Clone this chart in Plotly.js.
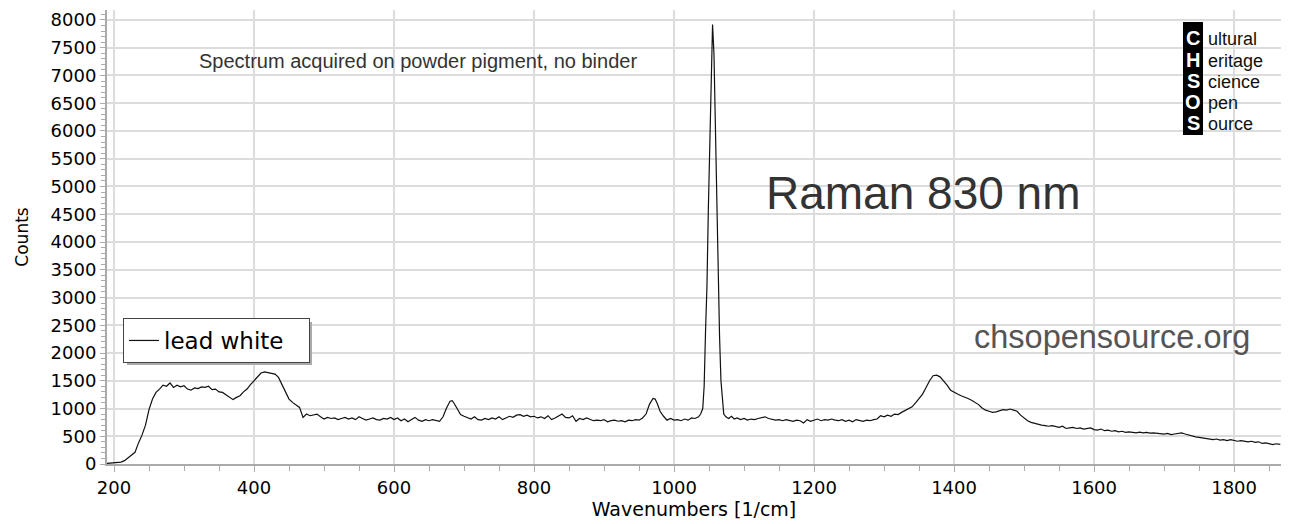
<!DOCTYPE html>
<html>
<head>
<meta charset="utf-8">
<script src="https://cdn.plot.ly/plotly-3.0.1.min.js"></script>
<style>html,body{margin:0;padding:0;background:#fff;}#chart{width:1293px;height:524px;}</style>
</head>
<body>
<div id="chart"></div>
<script>
// Raman spectrum, lead white, 830 nm excitation
const wavenumbers = [
190,195,200,205,210,215,220,225,230,235,240,245,250,255,260,265,270,275,280,285,290,295,300,305,310,315,320,325,330,335,340,345,350,355,360,365,370,375,380,385,390,395,400,405,410,415,420,425,430,435,440,445,450,455,460,465,470,475,480,485,490,495,
500,505,510,515,520,525,530,535,540,545,550,555,560,565,570,575,580,585,590,595,600,605,610,615,620,625,630,635,640,645,650,655,660,665,670,675,680,683,686,690,695,
700,705,710,715,720,725,730,735,740,745,750,755,760,765,770,775,780,785,790,795,800,805,810,815,820,825,830,835,840,845,850,855,860,865,870,875,880,885,890,895,
900,905,910,915,920,925,930,935,940,945,950,955,960,965,970,973,976,980,985,990,995,1000,1005,1010,1015,1020,1025,1030,1035,1038,1041,1043,1045,1047,1049,1051,1053,1055,1057,1059,1061,1063,1065,1067,1069,1071,1074,1078,1082,1086,1090,1095,
1100,1105,1110,1115,1120,1125,1130,1135,1140,1145,1150,1155,1160,1165,1170,1175,1180,1185,1190,1195,1200,1205,1210,1215,1220,1225,1230,1235,1240,1245,1250,1255,1260,1265,1270,1275,1280,1285,1290,1295,
1300,1305,1310,1315,1320,1325,1330,1335,1340,1345,1350,1355,1360,1365,1370,1375,1380,1385,1390,1395,1400,1405,1410,1415,1420,1425,1430,1435,1440,1445,1450,1455,1460,1465,1470,1475,1480,1485,1490,1495,
1500,1505,1510,1515,1520,1525,1530,1535,1540,1545,1550,1555,1560,1565,1570,1575,1580,1585,1590,1595,1600,1605,1610,1615,1620,1625,1630,1635,1640,1645,1650,1655,1660,1665,1670,1675,1680,1685,1690,1695,
1700,1705,1710,1715,1720,1725,1730,1735,1740,1745,1750,1755,1760,1765,1770,1775,1780,1785,1790,1795,1800,1805,1810,1815,1820,1825,1830,1835,1840,1845,1850,1855,1860,1866
];
const counts = [
10,15,20,18,35,60,110,150,210,380,520,700,980,1170,1290,1350,1420,1400,1460,1380,1420,1390,1410,1350,1330,1370,1360,1390,1380,1400,1340,1350,1300,1290,1250,1210,1160,1200,1230,1300,1350,1430,1500,1570,1640,1660,1650,1640,1620,1560,1430,1300,1170,1110,1060,1020,840,900,870,880,900,850,
810,840,820,830,800,820,840,810,830,800,850,820,790,810,830,800,790,820,810,840,800,830,780,810,760,800,840,790,770,800,780,800,790,770,850,1010,1130,1140,1090,1000,890,
860,830,810,850,800,790,820,800,830,810,850,800,830,860,840,880,890,860,880,850,860,830,850,820,870,800,830,860,900,840,830,870,770,820,800,830,810,780,790,780,
800,760,780,790,770,780,760,790,780,800,790,830,900,1080,1180,1170,1090,950,860,790,820,790,800,780,810,790,830,820,850,900,1000,1400,2400,3200,4600,5900,7200,7920,7400,6100,4700,3300,2300,1500,1100,900,850,820,860,810,830,800,
820,790,810,800,820,830,850,820,800,790,800,780,800,790,770,790,780,740,800,770,790,810,780,800,790,810,790,780,800,770,790,760,800,780,770,790,780,800,810,870,
850,880,860,900,890,930,960,990,1030,1100,1180,1260,1380,1500,1590,1600,1570,1500,1420,1330,1290,1260,1230,1210,1180,1150,1110,1070,1010,970,950,930,940,960,980,970,990,970,950,880,
830,780,750,730,720,700,690,680,690,670,660,680,640,650,660,640,650,630,640,650,620,610,630,600,610,590,600,580,590,570,580,570,560,575,560,570,555,560,550,545,
540,550,530,540,550,560,540,520,510,490,480,470,460,450,440,450,430,440,420,440,430,410,420,410,400,410,390,400,370,380,360,350,365,355
];
const seriesName = 'lead white';
const xTickValues = [200,400,600,800,1000,1200,1400,1600,1800];
const yTickValues = [0,500,1000,1500,2000,2500,3000,3500,4000,4500,5000,5500,6000,6500,7000,7500,8000];
const logoLetters = ['C','H','S','O','S'];
const logoWords = ['ultural','eritage','cience','pen','ource'];

// pixel -> paper helpers (plot area: x 107..1281, y 10..464)
const L = 107, R = 1281, T = 10, B = 464;
const px = x => (x - L) / (R - L);
const py = y => (B - y) / (B - T);

const annotations = [
  {text:'Spectrum acquired on powder pigment, no binder', xref:'paper', yref:'paper', x:px(197), y:py(61), xanchor:'left', yanchor:'middle', showarrow:false, font:{family:'Liberation Sans, Arial, sans-serif', size:20, color:'#333'}},
  {text:'Raman 830 nm', xref:'paper', yref:'paper', x:px(923), y:py(193), xanchor:'center', yanchor:'middle', showarrow:false, font:{family:'Liberation Sans, Arial, sans-serif', size:46, color:'#333'}},
  {text:'chsopensource.org', xref:'paper', yref:'paper', x:px(1112), y:py(337), xanchor:'center', yanchor:'middle', showarrow:false, font:{family:'Liberation Sans, Arial, sans-serif', size:32.5, color:'#555'}}
];
const logoY = [38, 60, 81, 102, 123];
logoLetters.forEach((ch, i) => {
  annotations.push({text:'<b>'+ch+'</b>', xref:'paper', yref:'paper', x:px(1193), y:py(logoY[i]), xanchor:'center', yanchor:'middle', showarrow:false, borderpad:0, font:{family:'Liberation Sans, Arial, sans-serif', size:20, color:'#fff'}});
  annotations.push({text:logoWords[i], xref:'paper', yref:'paper', x:px(1207), y:py(logoY[i]+1), xanchor:'left', yanchor:'middle', showarrow:false, borderpad:0, font:{family:'Liberation Sans, Arial, sans-serif', size:18, color:'#111'}});
});

const shapes = [
  {type:'rect', xref:'paper', yref:'paper', x0:px(1183), x1:px(1203), y0:py(135), y1:py(22), fillcolor:'#000', line:{width:0}, layer:'above'},
  // legend drop shadow
  {type:'rect', xref:'paper', yref:'paper', x0:px(127), x1:px(312), y0:py(365), y1:py(322), fillcolor:'#aaa', line:{width:0}, layer:'above'}
];

const trace = {
  x: wavenumbers, y: counts, type:'scatter', mode:'lines', name: seriesName,
  line:{color:'#111', width:1.2}
};

const layout = {
  width:1293, height:524,
  margin:{l:L, r:1293-R, t:T, b:524-B},
  paper_bgcolor:'#fff', plot_bgcolor:'#fff',
  font:{family:'DejaVu Sans, Verdana, sans-serif', size:18, color:'#000'},
  showlegend:true,
  legend:{x:px(123), y:py(318), xanchor:'left', yanchor:'top', orientation:'h', entrywidth:140, entrywidthmode:'pixels',
    bgcolor:'#fff', bordercolor:'#444', borderwidth:1, font:{size:23, family:'DejaVu Sans, Verdana, sans-serif'}},
  xaxis:{
    range:[190,1867], tickvals:xTickValues, ticks:'outside', ticklen:6, tickcolor:'#aaa', tickwidth:1,
    showline:true, linecolor:'#aaa', linewidth:2, showgrid:true, gridcolor:'#dcdcdc', gridwidth:2, zeroline:false,
    minor:{dtick:50, ticks:'outside', ticklen:5, tickcolor:'#aaa', showgrid:false},
    title:{text:'Wavenumbers [1/cm]', font:{size:19}, standoff:3},
    tickfont:{size:18}
  },
  yaxis:{
    range:[0,8180], tickvals:yTickValues, ticks:'outside', ticklen:5, tickcolor:'#aaa', tickwidth:1,
    showline:true, linecolor:'#aaa', linewidth:2, showgrid:true, gridcolor:'#dcdcdc', gridwidth:2, zeroline:false,
    minor:{dtick:100, ticks:'outside', ticklen:4, tickcolor:'#aaa', showgrid:false},
    title:{text:'Counts', font:{size:17}, standoff:18},
    tickfont:{size:18}
  },
  annotations: annotations,
  shapes: shapes
};
Plotly.newPlot('chart', [trace], layout, {displayModeBar:false, staticPlot:true});
</script>
</body>
</html>
